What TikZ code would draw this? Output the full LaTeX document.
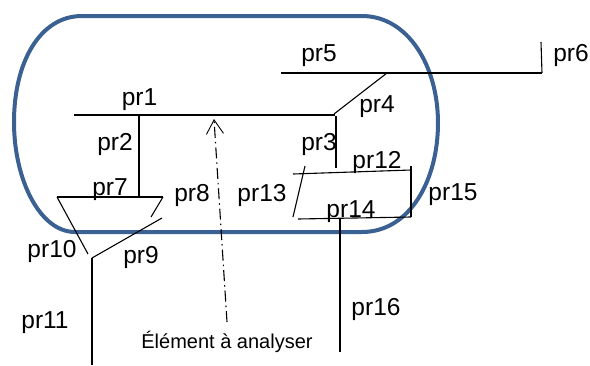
\documentclass[tikz,border=0pt]{standalone}
\usepackage{fontspec}
\setmainfont{Liberation Sans}
\usetikzlibrary{arrows.meta}
\definecolor{shellblue}{RGB}{58,97,145}

\begin{document}
\begin{tikzpicture}[x=1pt,y=-1pt,
    part/.style={line width=1.5pt,black},
    thin part/.style={line width=1.1pt,black},
    lab/.style={anchor=base,inner sep=0pt,font=\fontsize{24.5pt}{27pt}\selectfont}]
  \useasboundingbox (0,0) rectangle (590,365);

  % envelope
  \draw[shellblue,line width=4pt] (14,122) .. controls (14,62) and (40,16) .. (82,16)
    -- (362,16) .. controls (408,16) and (438,66) .. (438,123)
    .. controls (438,180) and (410,232) .. (362,232)
    -- (75,232) .. controls (40,232) and (14,180) .. (14,122) -- cycle;

  % points
  \coordinate (A1) at (74,115);
  \coordinate (A2) at (335,115);
  \coordinate (A3) at (139,115);
  \coordinate (A4) at (139,197);
  \coordinate (B1) at (57,197);
  \coordinate (B2) at (163,197);
  \coordinate (B3) at (151,217);
  \coordinate (B4) at (88,254);
  \coordinate (B5) at (162,218);
  \coordinate (B6) at (92,258);
  \coordinate (B7) at (92,365);
  \coordinate (C1) at (281,73);
  \coordinate (C2) at (542,73);
  \coordinate (C3) at (541,42);
  \coordinate (C4) at (387,73);
  \coordinate (C5) at (334,114);
  \coordinate (C6) at (336,116);
  \coordinate (C7) at (336,168);
  \coordinate (D1) at (293,174);
  \coordinate (D2) at (411,170);
  \coordinate (D3) at (411,166);
  \coordinate (D4) at (411,217);
  \coordinate (D5) at (298,219);
  \coordinate (D6) at (305,166);
  \coordinate (D7) at (293,217);
  \coordinate (D8) at (340,218);
  \coordinate (D9) at (340,352);
  \coordinate (E1) at (227,322);
  \coordinate (E2) at (214,119);

  \draw[part] (A1) -- (A2);
  \draw[part] (A3) -- (A4);
  \draw[part] (B1) -- (B2);
  \draw[thin part] (B1) -- (B4);
  \draw[thin part] (B2) -- (B3);
  \draw[thin part] (B5) -- (B6);
  \draw[part] (B6) -- (B7);
  \draw[part] (C1) -- (C2);
  \draw[thin part] (C2) -- (C3);
  \draw[thin part] (C4) -- (C5);
  \draw[part] (C6) -- (C7);
  \draw[thin part] (D1) -- (D2);
  \draw[thin part] (D3) -- (D4);
  \draw[thin part] (D5) -- (D4);
  \draw[thin part] (D6) -- (D7);
  \draw[part] (D8) -- (D9);
  \draw[thin part,dash pattern=on 11pt off 4pt on 1.5pt off 4pt,
    -{Straight Barb[length=14pt,width=17pt,line width=0.9pt]}] (E1) -- (E2);

  % labels
  \node[lab] (pr1) at (139.5,105) {pr1};
  \node[lab] (pr2) at (115,150) {pr2};
  \node[lab] (pr3) at (319,150) {pr3};
  \node[lab] (pr4) at (377,112) {pr4};
  \node[lab] (pr5) at (319,61) {pr5};
  \node[lab] (pr6) at (571,61) {pr6};
  \node[lab] (pr7) at (110,195) {pr7};
  \node[lab] (pr8) at (192,201) {pr8};
  \node[lab] (pr9) at (141,263) {pr9};
  \node[lab] (pr10) at (52,257) {pr10};
  \node[lab] (pr11) at (45,328) {pr11};
  \node[lab] (pr12) at (377,168) {pr12};
  \node[lab] (pr13) at (262,201) {pr13};
  \node[lab] (pr14) at (351,217) {pr14};
  \node[lab] (pr15) at (453,200) {pr15};
  \node[lab] (pr16) at (376,315) {pr16};
  \node[lab,font=\fontsize{20pt}{22pt}\selectfont] (elem) at (227,348) {Élément à analyser};
\end{tikzpicture}
\end{document}
